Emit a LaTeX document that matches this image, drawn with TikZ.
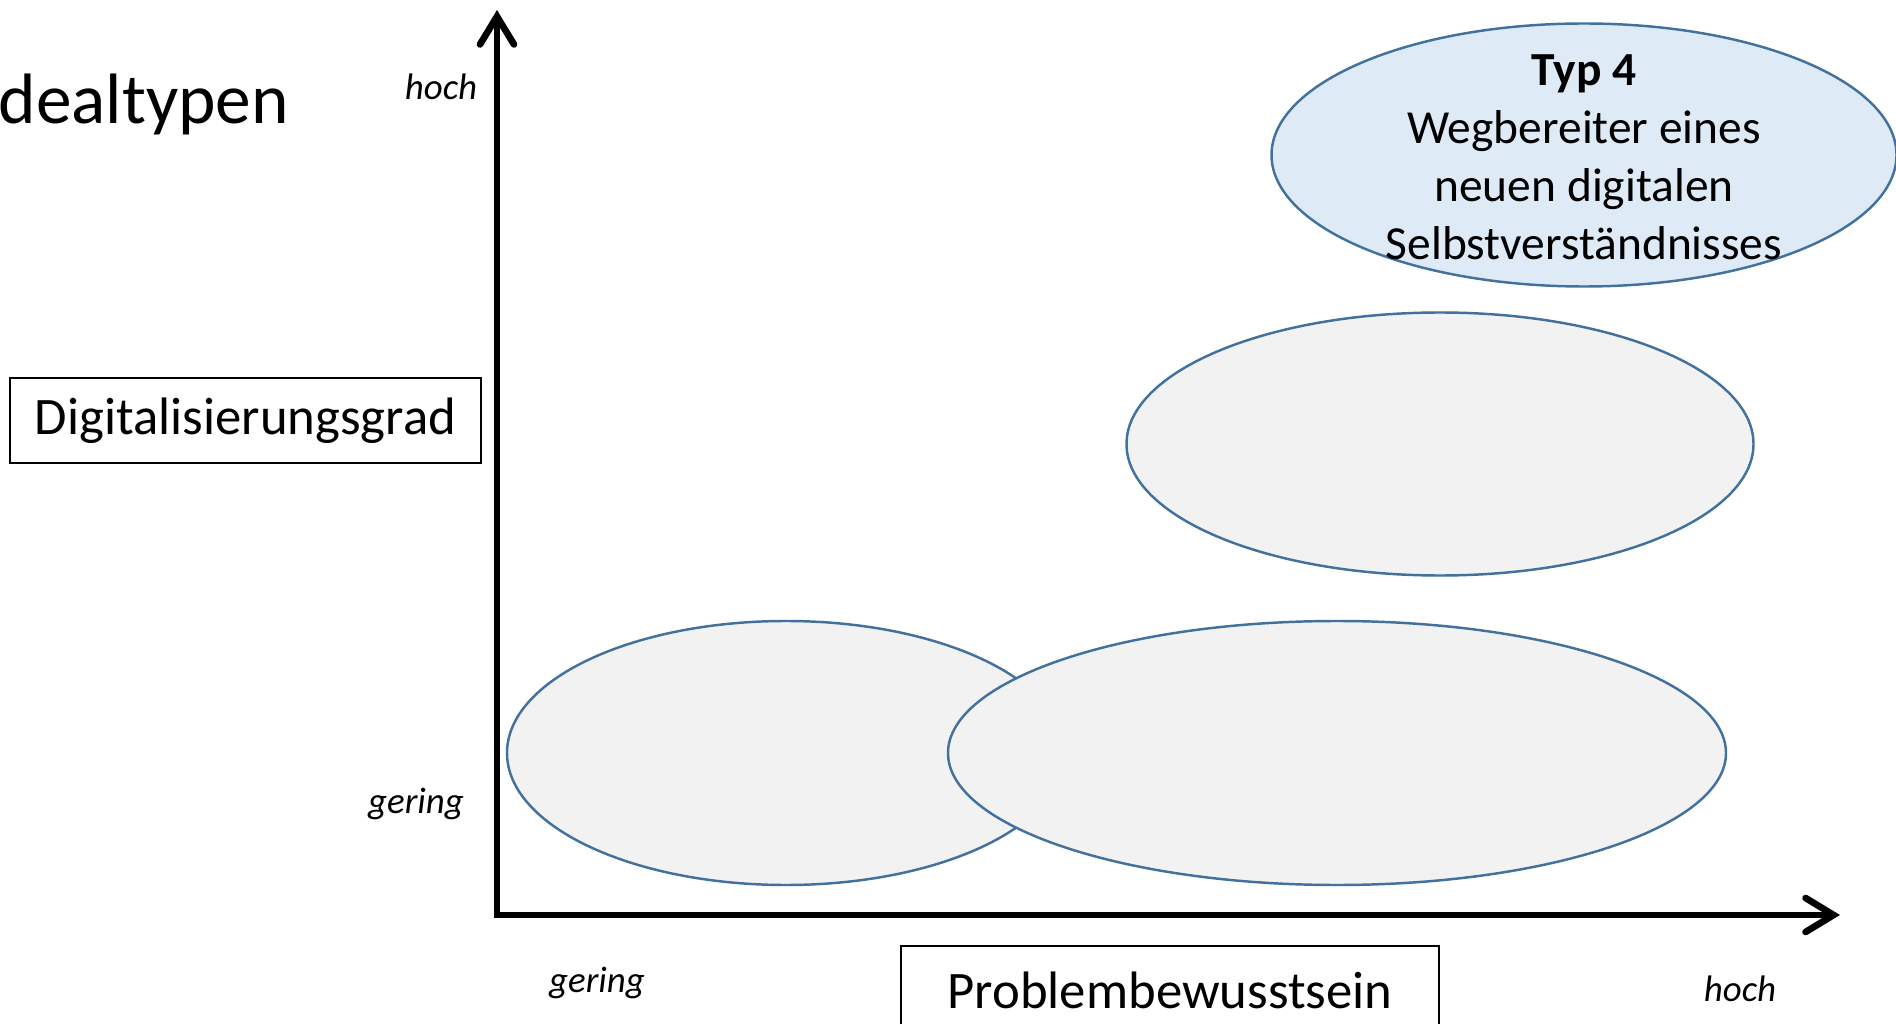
\documentclass[tikz,border=0pt]{standalone}
\usepackage{fontspec}
\setmainfont{Carlito}
\usetikzlibrary{shapes, positioning, calc, arrows.meta}

\definecolor{typline}{HTML}{41719C}
\definecolor{typgray}{HTML}{F2F2F2}
\definecolor{typblue}{HTML}{DEEBF7}

\begin{document}
\begin{tikzpicture}[
    typoval/.style={ellipse, draw=typline, line width=0.7pt, fill=typgray, inner sep=0pt},
    axis/.style={line width=1.9pt, {Straight Barb[length=2.8mm, width=3.4mm, line cap=round]}-{Straight Barb[length=2.8mm, width=3.4mm, line cap=round]}},
    level/.style={font=\fontsize{10.5}{12}\selectfont\itshape},
    axisname/.style={font=\fontsize{15}{18}\selectfont}
]
    \useasboundingbox (0,0) rectangle (18.96,10.24);

    % Title (cut at the left edge)
    \node[anchor=base west, inner sep=0pt, font=\fontsize{20.3}{24}\selectfont] (title) at (-0.02,9.00) {dealtypen};

    % Axes
    \coordinate (origin) at (4.97,1.09);
    \coordinate (ytip) at (4.97,10.14);
    \coordinate (xtip) at (18.40,1.09);
    \draw[axis] (ytip) -- (origin) -- (xtip);

    % Axis levels
    \node[level] (yhigh) at (4.41,9.37) {hoch};
    \node[level] (ylow) at (4.16,2.20) {gering};
    \node[level] (xlow) at (5.97,0.41) {gering};
    \node[level] (xhigh) at (17.40,0.35) {hoch};

    % Axis names
    \node[axisname, draw, line width=0.6pt, minimum width=4.71cm, minimum height=0.85cm] (ylabel) at (2.455,6.035) {Digitalisierungsgrad};
    \node[axisname, anchor=base] (xlabel) at (11.70,0.16) {Problembewusstsein};
    \draw[line width=0.6pt] (9.01,0) -- (9.01,0.78) -- (14.39,0.78) -- (14.39,0);

    % Types
    \node[typoval, minimum width=5.58cm, minimum height=2.64cm] (typ1) at (7.86,2.71) {};
    \node[typoval, minimum width=7.78cm, minimum height=2.64cm] (typ2) at (13.37,2.71) {};
    \node[typoval, minimum width=6.27cm, minimum height=2.63cm] (typ3) at (14.40,5.80) {};
    \node[typoval, fill=typblue, minimum width=6.25cm, minimum height=2.63cm] (typ4) at (15.84,8.69) {};
    \node[align=center, font=\fontsize{13.5}{16.5}\selectfont] (typ4text) at (15.84,8.67)
        {\textbf{Typ 4}\\Wegbereiter eines\\neuen digitalen\\Selbstverständnisses};
\end{tikzpicture}
\end{document}
